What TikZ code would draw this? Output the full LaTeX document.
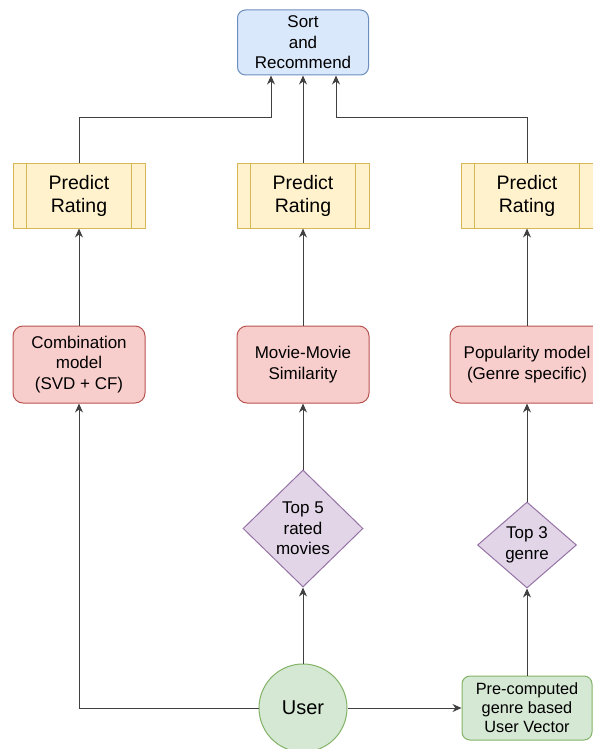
\documentclass[tikz,border=0pt]{standalone}
\usepackage{fontspec}
\setmainfont{Liberation Sans}
\usetikzlibrary{shapes.geometric,arrows.meta}

\definecolor{sortfill}{HTML}{DAE8FC}
\definecolor{sortline}{HTML}{6C8EBF}
\definecolor{predfill}{HTML}{FFF2CC}
\definecolor{predline}{HTML}{D6B656}
\definecolor{modelfill}{HTML}{F8CECC}
\definecolor{modelline}{HTML}{B85450}
\definecolor{topfill}{HTML}{E1D5E7}
\definecolor{topline}{HTML}{9673A6}
\definecolor{userfill}{HTML}{D5E8D4}
\definecolor{userline}{HTML}{82B366}

\begin{document}
\begin{tikzpicture}[x=1pt, y=-1pt, line width=1pt,
  every node/.style={font=\fontsize{17}{20.5}\selectfont, align=center, inner sep=0pt},
  sortbox/.style={draw=sortline, fill=sortfill, rounded corners=8pt, minimum width=131pt, minimum height=65pt},
  predbox/.style={draw=predline, fill=predfill, minimum width=132pt, minimum height=65pt, font=\fontsize{19.5}{23}\selectfont},
  modelbox/.style={draw=modelline, fill=modelfill, rounded corners=10pt, minimum width=132pt, minimum height=77pt},
  topbox/.style={draw=topline, fill=topfill, diamond, aspect=1},
  userbox/.style={draw=userline, fill=userfill},
  arr/.style={draw=black!75, -{Stealth[length=9pt,width=8pt]}}]
  \useasboundingbox (0,0) rectangle (593,749);
  \clip (0,0) rectangle (593,749);

  \node[sortbox] (sort) at (303,42.5) {Sort\\and\\Recommend};

  \node[predbox] (pred1) at (79,195.5) {Predict\\Rating};
  \node[predbox] (pred2) at (303,195.5) {Predict\\Rating};
  \node[predbox] (pred3) at (527,195.5) {Predict\\Rating};
  \foreach \p in {pred1,pred2,pred3} {
    \draw[predline] ([xshift=14pt]\p.north west) -- ([xshift=14pt]\p.south west);
    \draw[predline] ([xshift=-14pt]\p.north east) -- ([xshift=-14pt]\p.south east);
  }

  \node[modelbox] (comb) at (79,364.5) {Combination\\model\\(SVD + CF)};
  \node[modelbox] (mm) at (303,364.5) {Movie-Movie\\Similarity};
  \node[modelbox, minimum width=154pt] (pop) at (527,364.5) {Popularity model\\(Genre specific)};

  \node[topbox, minimum width=120pt, minimum height=117pt] (top5) at (303,528.5) {Top 5\\rated\\movies};
  \node[topbox, minimum width=99pt, minimum height=86pt] (top3) at (527,545) {Top 3\\genre};

  \node[userbox, circle, minimum size=88pt, font=\fontsize{20}{23}\selectfont] (user) at (303,708) {User};
  \node[userbox, rounded corners=8pt, minimum width=130pt, minimum height=64pt,
    font=\fontsize{16.3}{19}\selectfont] (vec) at (527,708) {Pre-computed\\genre based\\User Vector};

  \coordinate (jl) at (271,118);
  \coordinate (jr) at (336,118);
  \coordinate (jb) at (79,708);

  \draw[arr] (pred1.north) |- (jl) -- (jl |- sort.south);
  \draw[arr] (pred2.north) -- (sort.south);
  \draw[arr] (pred3.north) |- (jr) -- (jr |- sort.south);

  \draw[arr] (comb) -- (pred1);
  \draw[arr] (mm) -- (pred2);
  \draw[arr] (pop) -- (pred3);

  \draw[arr] (top5) -- (mm);
  \draw[arr] (top3) -- (pop);
  \draw[arr] (user) -- (top5);
  \draw[arr] (vec) -- (top3);
  \draw[arr] (user) -- (vec);
  \draw[arr] (user.west) -- (jb) -- (comb.south);
\end{tikzpicture}
\end{document}
